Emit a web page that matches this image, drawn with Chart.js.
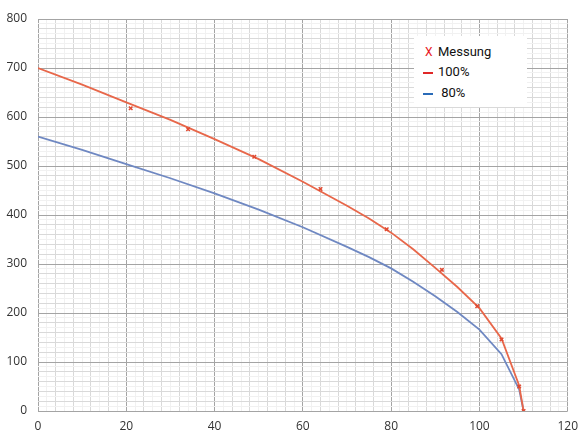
<!DOCTYPE html>
<html>
<head>
<meta charset="utf-8">
<script src="https://cdn.jsdelivr.net/npm/chart.js@4/dist/chart.umd.min.js"></script>
<style>
  body { margin: 0; background: #fff; }
  #wrap { position: relative; width: 586px; height: 431px; }
  #legend {
    position: absolute; left: 414px; top: 36px; width: 113px; height: 71px;
    background: #fff; font-family: Roboto, "Noto Sans", sans-serif; font-size: 13px; color: #111;
  }
  #legend .row { position: absolute; left: 9px; height: 16px; line-height: 16px; white-space: pre; }
  #legend .sym { display: inline-block; width: 15px; vertical-align: top; position: relative; height: 16px; }
  #legend .bar { position: absolute; left: 0; top: 8px; width: 10px; height: 1.5px; }
</style>
</head>
<body>
<div id="wrap">
  <canvas id="graphCanvas"></canvas>
  <div id="legend"></div>
</div>
<script>
// measured points
var messX = [21, 34, 49, 64, 79, 91.5, 99.5, 105, 109, 110];
var messY = [618, 575, 519, 453, 371, 288, 214, 146, 50, 0];

// calculated curves
var curveX = [0, 10, 20, 30, 40, 50, 60, 70, 75, 80, 85, 90, 95, 100, 105, 109, 110];
var y100 = [700, 666, 630, 594, 555, 514, 468, 419, 393, 364, 330, 292, 253, 210, 148, 52, 0];
var y80 = [560, 533, 504, 475, 444, 411, 375, 335, 314, 291, 264, 234, 202, 166, 116, 44, 0];

var xTicks = [0, 20, 40, 60, 80, 100, 120];
var yTicks = [0, 100, 200, 300, 400, 500, 600, 700, 800];

function pts(xs, ys) {
    var out = [];
    for (var i in xs) {
        out.push({ x: xs[i], y: ys[i] });
    }
    return out;
}

function gridColor(v, major, mid) {
    if (v % major === 0) return '#a4a4a4';
    if (v % mid === 0) return '#d9d9d9';
    return '#f1f1f1';
}

var chartdata = {
    datasets: [{
        label: 'Messung',
        data: pts(messX, messY),
        showLine: false,
        pointStyle: 'crossRot',
        pointRadius: 2.5,
        borderWidth: 1.5,
        borderColor: '#e04a32',
        backgroundColor: '#e04a32',
        legendSym: 'x',
        legendColor: '#e8141b',
        order: 0
    }, {
        label: '100%',
        data: pts(curveX, y100),
        showLine: true,
        pointRadius: 0,
        borderWidth: 1.8,
        borderColor: '#e8674a',
        legendSym: 'bar',
        legendColor: '#e02828',
        order: 1
    }, {
        label: ' 80%',
        data: pts(curveX, y80),
        showLine: true,
        pointRadius: 0,
        borderWidth: 1.8,
        borderColor: '#6f88c2',
        legendSym: 'bar',
        legendColor: '#2a6bb8',
        order: 2
    }]
};

var tickFont = { family: '"Open Sans", "DejaVu Sans", sans-serif', size: 12 };

var graphTarget = document.getElementById('graphCanvas');
var chart = new Chart(graphTarget, {
    type: 'scatter',
    data: chartdata,
    options: {
        responsive: true,
        maintainAspectRatio: false,
        animation: false,
        layout: { padding: { top: 19, right: 13, bottom: 0, left: 0 } },
        plugins: { legend: { display: false }, tooltip: { enabled: false } },
        scales: {
            x: {
                type: 'linear', min: 0, max: 120,
                afterFit: function(s) { s.height = 20; },
                afterBuildTicks: function(s) {
                    var t = [];
                    for (var v = 0; v <= 120; v += 2) t.push({ value: v });
                    s.ticks = t;
                },
                ticks: {
                    autoSkip: false, maxRotation: 0, padding: 8, color: '#333', font: tickFont,
                    callback: function(v) { return xTicks.indexOf(v) >= 0 ? String(v) : ''; }
                },
                grid: {
                    drawTicks: false,
                    color: function(c) { return gridColor(c.tick.value, 20, 4); }
                },
                border: { display: false }
            },
            y: {
                type: 'linear', min: 0, max: 800,
                afterFit: function(s) { s.width = 38; },
                afterBuildTicks: function(s) {
                    var t = [];
                    for (var v = 0; v <= 800; v += 10) t.push({ value: v });
                    s.ticks = t;
                },
                ticks: {
                    autoSkip: false, padding: 11, color: '#333', font: tickFont,
                    callback: function(v) { return yTicks.indexOf(v) >= 0 ? String(v) : ''; }
                },
                grid: {
                    drawTicks: false,
                    color: function(c) { return gridColor(c.tick.value, 100, 20); }
                },
                border: { display: false }
            }
        }
    }
});

// legend box
var legend = document.getElementById('legend');
var tops = [8, 28, 49];
chartdata.datasets.forEach(function(ds, i) {
    var row = document.createElement('div');
    row.className = 'row';
    row.style.top = tops[i] + 'px';
    var sym = document.createElement('span');
    sym.className = 'sym';
    if (ds.legendSym === 'x') {
        sym.style.color = ds.legendColor;
        sym.style.fontSize = '12px';
        sym.style.paddingLeft = '2px';
        sym.style.width = '13px';
        sym.textContent = 'X';
    } else {
        var bar = document.createElement('span');
        bar.className = 'bar';
        bar.style.background = ds.legendColor;
        sym.appendChild(bar);
    }
    row.appendChild(sym);
    row.appendChild(document.createTextNode(ds.label));
    legend.appendChild(row);
});
</script>
</body>
</html>
